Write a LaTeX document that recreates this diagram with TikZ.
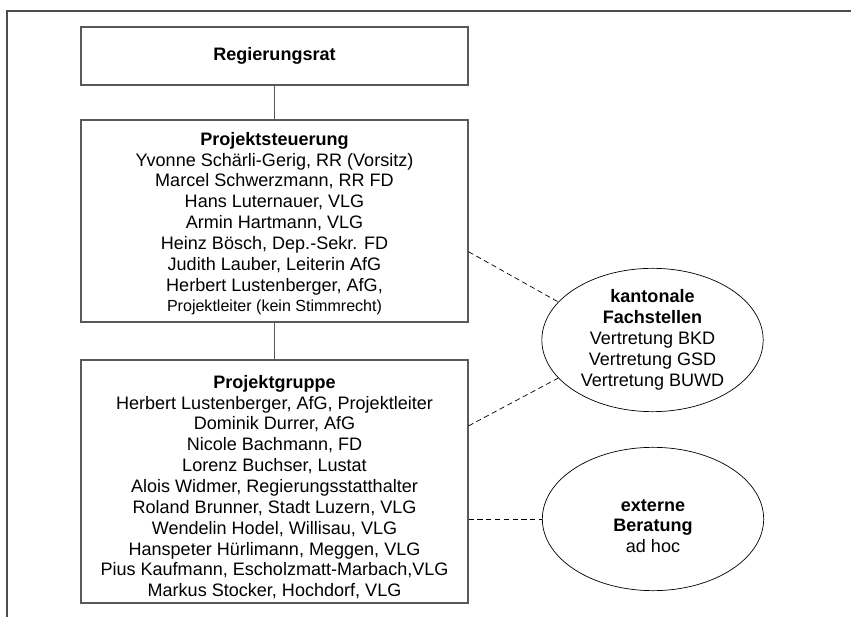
\documentclass[tikz,border=0pt]{standalone}
\usepackage{fontspec}
\setmainfont{Liberation Sans}
\usetikzlibrary{shapes.geometric}

\begin{document}
\begin{tikzpicture}
	\tikzstyle{every node}=[font=\fontsize{15.4pt}{17.8pt}\selectfont]
	\tikzstyle{orgbox}=[draw=black!65, line width=1pt, inner sep=0pt, minimum width=11.61cm, align=center]
	\tikzstyle{gremium}=[draw, ellipse, line width=0.6pt, inner sep=0pt, minimum width=6.64cm, minimum height=4.3cm, align=center]
	\tikzstyle{beizug}=[line width=0.6pt, dash pattern=on 4.5pt off 3pt]
	
	\useasboundingbox (0,0) rectangle (25.53,18.51);
	
	% Rahmen
	\draw[line width=1.2pt, black!70] (0.21,0) -- (0.21,18.18) -- (25.53,18.18);
	
	\node[orgbox, minimum height=1.74cm] (rr) at (8.235,16.83) {\textbf{Regierungsrat}};
	
	\node[orgbox, minimum height=6.06cm] (ps) at (8.235,11.88) {\mbox{}\\[-2pt]
		\textbf{Projektsteuerung}\\
		Yvonne Schärli-Gerig, RR (Vorsitz)\\
		Marcel Schwerzmann, RR FD\\
		Hans Luternauer, VLG\\
		Armin Hartmann, VLG\\
		Heinz Bösch, Dep.-Sekr. FD\\
		Judith Lauber, Leiterin AfG\\
		Herbert Lustenberger, AfG,\\
		{\fontsize{13.7pt}{15.6pt}\selectfont Projektleiter (kein Stimmrecht)}};
	
	\node[orgbox, minimum height=7.29cm] (pg) at (8.235,4.065) {\mbox{}\\[3pt]
		\textbf{Projektgruppe}\\
		Herbert Lustenberger, AfG, Projektleiter\\
		Dominik Durrer, AfG\\
		Nicole Bachmann, FD\\
		Lorenz Buchser, Lustat\\
		Alois Widmer, Regierungsstatthalter\\
		Roland Brunner, Stadt Luzern, VLG\\
		Wendelin Hodel, Willisau, VLG\\
		Hanspeter Hürlimann, Meggen, VLG\\
		Pius Kaufmann, Escholzmatt-Marbach,VLG\\
		Markus Stocker, Hochdorf, VLG};
	
	\node[gremium] (kf) at (19.575,8.31) {\textbf{kantonale}\\
		\textbf{Fachstellen}\\
		Vertretung BKD\\
		Vertretung GSD\\
		Vertretung BUWD};
	
	\node[gremium] (eb) at (19.59,2.94) {\mbox{}\\[4.4pt]
		\textbf{externe}\\
		\textbf{Beratung}\\
		ad hoc};
	
	% Linien
	\draw[line width=1pt, black!65] (rr.south) -- (ps.north);
	\draw[line width=1pt, black!65] (ps.south) -- (pg.north);
	
	\draw[beizug] (ps.-9.4) -- (kf.158.6);
	\draw[beizug] (pg.16.3) -- (kf.202);
	\draw[beizug] (pg.east |- eb.west) -- (eb.west);
	
\end{tikzpicture}
\end{document}
